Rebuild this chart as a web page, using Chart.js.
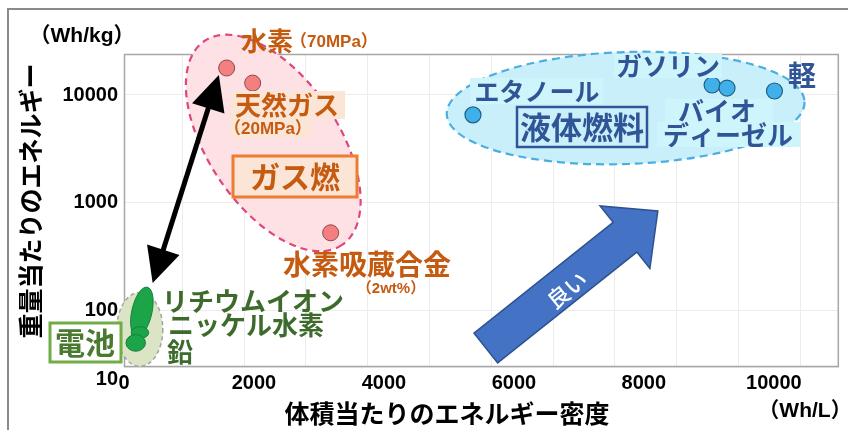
<!DOCTYPE html>
<html lang="ja">
<head>
<meta charset="utf-8">
<script src="https://cdn.jsdelivr.net/npm/chart.js@4.4.0/dist/chart.umd.min.js"></script>
<style>
  html, body { margin: 0; padding: 0; background: #fff; }
  #wrap { width: 848px; height: 430px; position: relative; }
</style>
</head>
<body>
<div id="wrap"><canvas id="chart" width="848" height="430"></canvas></div>
<script>
// 体積当たり (Wh/L) / 重量当たり (Wh/kg)
const gasNames = ['水素(70MPa)', '天然ガス(20MPa)', '水素吸蔵合金(2wt%)']
const gasWhL = [1580, 1980, 3180]
const gasWhKg = [17800, 12900, 527]

const liquidNames = ['エタノール', 'ガソリン', 'バイオディーゼル', '軽油']
const liquidWhL = [5370, 9050, 9280, 10010]
const liquidWhKg = [6540, 12380, 11600, 10890]

// batteries are ranges: [min, max]
const batteryNames = ['リチウムイオン', 'ニッケル水素', '鉛']
const batteryWhL = [[120, 430], [110, 380], [30, 330]]
const batteryWhKg = [[57, 167], [55, 71], [42, 60]]

const xTicks = [0, 2000, 4000, 6000, 8000, 10000]
const yTicks = [30, 100, 1000, 10000]
const yTickLabels = ['10', '100', '1000', '10000']
const gridSteps = [1, 2, 3, 4, 5, 6, 7, 8, 9, 10, 11]

const JP = '"Noto Sans CJK JP", sans-serif'
const LAT = '"Liberation Sans", "Noto Sans CJK JP", sans-serif'
const ORANGE = '#c55a11'
const GREEN = '#3d6b2b'
const BLUE = '#2f5597'

// group outlines, anchored at data values (Wh/L, Wh/kg)
const groupShapes = [
  { at: [2297, 3590], rx: 123, ry: 65, rot: 56, fill: '#fde1e5', stroke: '#e0457e', dash: [7, 5], width: 2.2 },
  { at: [7720, 7570], rx: 179, ry: 56, rot: -2, fill: '#c9f0fa', stroke: '#4aaee0', dash: [8, 5], width: 2.2 },
  { at: [243, 67], rx: 23, ry: 37, rot: 0, fill: '#dbe4c4', stroke: '#a3a3a3', dash: [4, 3], width: 1.5 },
]
const batteryTilt = [0.22, 0, 0]

const labelBgs = [
  { x: 230, y: 91, w: 115, h: 28, c: '#fbe5d6' },
  { x: 230, y: 119, w: 83, h: 19, c: '#fbe5d6' },
  { x: 470, y: 78, w: 133, h: 26, c: '#cff5fc' },
  { x: 614, y: 54, w: 108, h: 24, c: '#cff5fc' },
  { x: 665, y: 99, w: 108, h: 23, c: '#cff5fc' },
  { x: 657, y: 122, w: 143, h: 25, c: '#cff5fc' },
]

const labelBoxes = [
  { x: 233, y: 156, w: 124, h: 41, fill: '#fbe5d6', stroke: '#ed7d31', lw: 3 },
  { x: 50, y: 323, w: 71, h: 39, fill: '#ffffff', stroke: '#70ad47', lw: 3 },
  { x: 517, y: 107, w: 130, h: 40, fill: null, stroke: BLUE, lw: 2.5 },
]

const labels = [
  { t: '水素', x: 241, y: 41, size: 26, c: ORANGE, align: 'left' },
  { t: '（70MPa）', x: 290, y: 42, size: 17, c: ORANGE, align: 'left', lat: true },
  { t: '天然ガス', x: 287, y: 105, size: 26, c: ORANGE },
  { t: '（20MPa）', x: 224, y: 129, size: 17, c: ORANGE, align: 'left', lat: true },
  { t: 'ガス燃', x: 295, y: 177, size: 30, c: ORANGE },
  { t: '水素吸蔵合金', x: 367, y: 264, size: 28, c: ORANGE },
  { t: '（2wt%）', x: 391, y: 289, size: 15, c: ORANGE, lat: true },
  { t: 'リチウムイオン', x: 162, y: 301, size: 26, c: GREEN, align: 'left' },
  { t: 'ニッケル水素', x: 168, y: 325, size: 26, c: GREEN, align: 'left' },
  { t: '鉛', x: 167, y: 352, size: 26, c: GREEN, align: 'left' },
  { t: '電池', x: 85, y: 343, size: 30, c: '#4a7a30' },
  { t: 'エタノール', x: 537, y: 91, size: 25, c: BLUE },
  { t: 'ガソリン', x: 668, y: 66, size: 26, c: BLUE },
  { t: '軽', x: 802, y: 75, size: 28, c: BLUE },
  { t: 'バイオ', x: 717, y: 111, size: 26, c: BLUE },
  { t: 'ディーゼル', x: 728, y: 135, size: 26, c: BLUE },
  { t: '液体燃料', x: 582, y: 127, size: 31, c: BLUE },
]

function drawText(ctx, l) {
  ctx.save()
  ctx.font = (l.weight || 'bold') + ' ' + l.size + 'px ' + (l.lat ? LAT : JP)
  ctx.fillStyle = l.c || '#000'
  ctx.textAlign = l.align || 'center'
  ctx.textBaseline = 'middle'
  ctx.translate(l.x, l.y)
  if (l.rot) ctx.rotate(l.rot * Math.PI / 180)
  ctx.fillText(l.t, 0, 0)
  ctx.restore()
}

function arrowHead(ctx, tip, ux, uy, len, half) {
  const bx = tip.x - ux * len, by = tip.y - uy * len
  ctx.beginPath()
  ctx.moveTo(tip.x, tip.y)
  ctx.lineTo(bx - uy * half, by + ux * half)
  ctx.lineTo(bx + uy * half, by - ux * half)
  ctx.closePath()
  ctx.fill()
}

const decor = {
  id: 'decor',
  beforeDraw(chart) {
    const ctx = chart.ctx
    ctx.save()
    ctx.fillStyle = '#fff'
    ctx.fillRect(0, 0, chart.width, chart.height)
    // outer frame (only left / top are inside the picture)
    ctx.strokeStyle = '#8a8a8a'
    ctx.lineWidth = 2
    ctx.beginPath()
    ctx.moveTo(8, chart.height)
    ctx.lineTo(8, 9)
    ctx.lineTo(chart.width, 9)
    ctx.stroke()
    ctx.restore()
  },
  beforeDatasetsDraw(chart) {
    const ctx = chart.ctx
    const { x, y } = chart.scales
    const a = chart.chartArea
    ctx.save()
    ctx.strokeStyle = '#a6a6a6'
    ctx.lineWidth = 1.5
    ctx.strokeRect(a.left + 0.5, a.top + 0.5, a.right - a.left - 1, a.bottom - a.top - 1)

    // group outlines
    groupShapes.forEach(g => {
      const cx = x.getPixelForValue(g.at[0]), cy = y.getPixelForValue(g.at[1])
      ctx.beginPath()
      ctx.ellipse(cx, cy, g.rx, g.ry, g.rot * Math.PI / 180, 0, Math.PI * 2)
      ctx.fillStyle = g.fill
      ctx.fill()
      ctx.setLineDash(g.dash)
      ctx.lineWidth = g.width
      ctx.strokeStyle = g.stroke
      ctx.stroke()
    })
    ctx.setLineDash([])

    // battery ranges
    batteryWhL.forEach((r, i) => {
      const x0 = x.getPixelForValue(r[0]), x1 = x.getPixelForValue(r[1])
      const y0 = y.getPixelForValue(batteryWhKg[i][0]), y1 = y.getPixelForValue(batteryWhKg[i][1])
      ctx.beginPath()
      ctx.ellipse((x0 + x1) / 2, (y0 + y1) / 2, Math.abs(x1 - x0) / 2, Math.abs(y1 - y0) / 2, batteryTilt[i], 0, Math.PI * 2)
      ctx.fillStyle = '#1ba548'
      ctx.fill()
      ctx.lineWidth = 1
      ctx.strokeStyle = '#13823a'
      ctx.stroke()
    })

    // black double arrow: batteries <-> gas fuels
    const p0 = { x: x.getPixelForValue(441), y: y.getPixelForValue(180) }
    const p1 = { x: x.getPixelForValue(1460), y: y.getPixelForValue(15340) }
    const d = Math.hypot(p1.x - p0.x, p1.y - p0.y)
    const ux = (p1.x - p0.x) / d, uy = (p1.y - p0.y) / d
    ctx.strokeStyle = '#000'
    ctx.fillStyle = '#000'
    ctx.lineWidth = 5
    ctx.beginPath()
    ctx.moveTo(p0.x + ux * 20, p0.y + uy * 20)
    ctx.lineTo(p1.x - ux * 20, p1.y - uy * 20)
    ctx.stroke()
    arrowHead(ctx, p1, ux, uy, 35, 17)
    arrowHead(ctx, p0, -ux, -uy, 35, 17)
    ctx.restore()
  },
  afterDatasetsDraw(chart) {
    const ctx = chart.ctx
    const { x, y } = chart.scales
    ctx.save()
    labelBgs.forEach(b => { ctx.fillStyle = b.c; ctx.fillRect(b.x, b.y, b.w, b.h) })
    labelBoxes.forEach(b => {
      if (b.fill) { ctx.fillStyle = b.fill; ctx.fillRect(b.x, b.y, b.w, b.h) }
      ctx.strokeStyle = b.stroke
      ctx.lineWidth = b.lw
      ctx.strokeRect(b.x, b.y, b.w, b.h)
    })
    labels.forEach(l => drawText(ctx, l))

    // blue "better" arrow
    const t = { x: x.getPixelForValue(5568), y: y.getPixelForValue(45) }
    const p = { x: x.getPixelForValue(8215), y: y.getPixelForValue(839) }
    const d = Math.hypot(p.x - t.x, p.y - t.y)
    const ux = (p.x - t.x) / d, uy = (p.y - t.y) / d
    const nx = -uy, ny = ux
    const hl = 42, sw = 19, hw = 40
    const hx = p.x - ux * hl, hy = p.y - uy * hl
    ctx.beginPath()
    ctx.moveTo(t.x + nx * sw, t.y + ny * sw)
    ctx.lineTo(hx + nx * sw, hy + ny * sw)
    ctx.lineTo(hx + nx * hw, hy + ny * hw)
    ctx.lineTo(p.x, p.y)
    ctx.lineTo(hx - nx * hw, hy - ny * hw)
    ctx.lineTo(hx - nx * sw, hy - ny * sw)
    ctx.lineTo(t.x - nx * sw, t.y - ny * sw)
    ctx.closePath()
    ctx.fillStyle = '#4472c4'
    ctx.fill()
    ctx.strokeStyle = '#2f528f'
    ctx.lineWidth = 1.5
    ctx.stroke()
    const ang = Math.atan2(uy, ux) * 180 / Math.PI
    drawText(ctx, { t: '良い', x: 567, y: 290, size: 22, c: '#fff', rot: ang, weight: '500' })

    // axis titles and units
    drawText(ctx, { t: '重量当たりのエネルギー', x: 30, y: 201, size: 25, c: '#000', rot: -90 })
    drawText(ctx, { t: '（Wh/kg）', x: 82, y: 36, size: 21, c: '#000', lat: true })
    drawText(ctx, { t: '体積当たりのエネルギー密度', x: 447, y: 413, size: 25, c: '#000' })
    drawText(ctx, { t: '（Wh/L）', x: 805, y: 411, size: 21, c: '#000', lat: true })
    ctx.restore()
  }
}

const tickFont = { family: '"Liberation Sans", Arial, sans-serif', size: 20, weight: 'bold' }

new Chart(document.getElementById('chart'), {
  type: 'scatter',
  data: {
    datasets: [
      {
        label: 'ガス燃料',
        data: gasWhL.map((v, i) => ({ x: v, y: gasWhKg[i] })),
        backgroundColor: '#f47f80',
        borderColor: '#8c4a4a',
        borderWidth: 1,
        pointRadius: 8,
      },
      {
        label: '液体燃料',
        data: liquidWhL.map((v, i) => ({ x: v, y: liquidWhKg[i] })),
        backgroundColor: '#3fb0ea',
        borderColor: '#205f86',
        borderWidth: 1.2,
        pointRadius: 8,
      },
    ],
  },
  options: {
    responsive: false,
    animation: false,
    devicePixelRatio: 1,
    layout: { padding: { top: 54, right: 1, left: 0, bottom: 0 } },
    plugins: { legend: { display: false }, tooltip: { enabled: false } },
    scales: {
      x: {
        type: 'linear',
        position: 'bottom',
        min: 0,
        max: 11000,
        afterBuildTicks: s => { s.ticks = xTicks.map(v => ({ value: v })) },
        afterFit: s => { s.height = 63 },
        grid: { display: false, drawTicks: false },
        border: { display: false },
        ticks: { font: tickFont, color: '#000', padding: 4, maxRotation: 0, callback: v => String(v) },
      },
      xg: {
        type: 'linear',
        position: 'bottom',
        min: 0.056,
        max: 11.624,
        afterBuildTicks: s => { s.ticks = gridSteps.map(v => ({ value: v })) },
        afterFit: s => { s.height = 0 },
        grid: { color: '#ececec', lineWidth: 1, drawTicks: false },
        border: { display: false },
        ticks: { display: false },
      },
      y: {
        type: 'logarithmic',
        min: 30,
        max: 24000,
        afterBuildTicks: s => { s.ticks = yTicks.map(v => ({ value: v })) },
        afterFit: s => { s.width = 124 },
        grid: { color: '#ececec', lineWidth: 1, drawTicks: false },
        border: { display: false },
        ticks: {
          font: tickFont,
          color: '#000',
          padding: 6,
          callback: (v, i) => i === 0 ? ['', yTickLabels[0]] : yTickLabels[i],
        },
      },
    },
  },
  plugins: [decor],
})
</script>
</body>
</html>
